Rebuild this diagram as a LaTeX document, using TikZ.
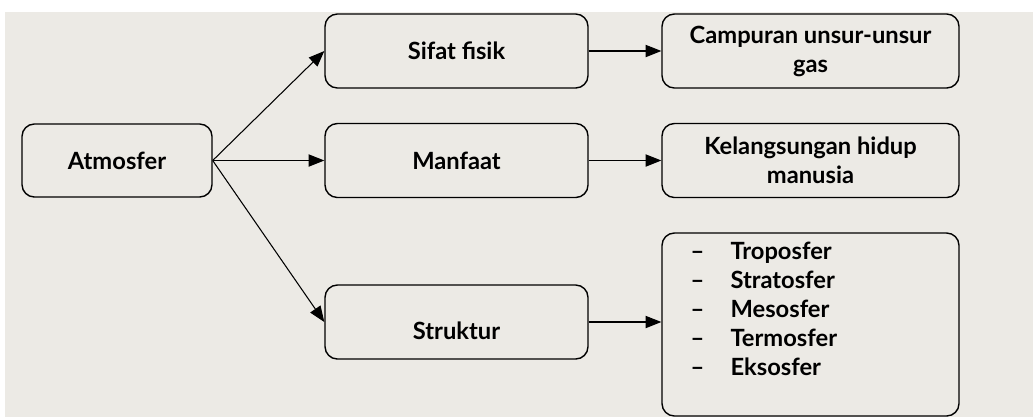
\documentclass[tikz,border=0pt]{standalone}
\usepackage{fontspec}
\setmainfont{Lato}
\usetikzlibrary{positioning,arrows.meta}
\definecolor{latarKrem}{HTML}{ECEAE5}

\begin{document}
\begin{tikzpicture}[
        x=0.02cm, y=-0.02cm,
        kotak/.style={rectangle, draw=black, line width=0.8pt, rounded corners=7pt, align=center, font=\fontsize{13.5}{16.5}\selectfont\bfseries, inner sep=2pt},
        kotakInduk/.style={kotak, minimum width=3.8cm, minimum height=1.46cm},
        kotakTengah/.style={kotak, minimum width=5.26cm, minimum height=1.48cm},
        kotakKanan/.style={kotak, minimum width=5.94cm, minimum height=1.48cm},
        panah/.style={-{Triangle[length=9pt, width=7pt]}, line width=0.6pt, draw=black}
    ]
        % Latar
        \useasboundingbox (0,0) rectangle (1033,417);
        \fill[white] (0,0) rectangle (1033,417);
        \fill[latarKrem] (5,12) rectangle (1033,417);

        % Kotak induk
        \node[kotakInduk] (atmosfer) at (117,160.5) {\raisebox{-2pt}{Atmosfer}};

        % Kotak tengah
        \node[kotakTengah] (sifat) at (456.5,51) {Sifat fisik};
        \node[kotakTengah] (manfaat) at (456.5,160.5) {Manfaat};
        \node[kotakTengah] (struktur) at (456.5,322) {\raisebox{-10pt}[0pt][0pt]{Struktur}};

        % Kotak kanan
        \node[kotakKanan] (campuran) at (810.5,51) {Campuran unsur-unsur\\gas};
        \node[kotakKanan] (hidup) at (810.5,160.5) {Kelangsungan hidup\\manusia};
        \node[kotakKanan, minimum height=3.66cm] (lapisan) at (810.5,324.5) {\parbox[c][3.3cm][t]{4.8cm}{\fontsize{13.5}{16.5}\selectfont\bfseries
            \makebox[0.8cm][l]{--}Troposfer\\
            \makebox[0.8cm][l]{--}Stratosfer\\
            \makebox[0.8cm][l]{--}Mesosfer\\
            \makebox[0.8cm][l]{--}Termosfer\\
            \makebox[0.8cm][l]{--}Eksosfer}};

        % Panah dari induk
        \draw[panah] (atmosfer.east) -- (sifat.west);
        \draw[panah] (atmosfer.east) -- (manfaat.west);
        \draw[panah] (atmosfer.east) -- (struktur.west);

        % Panah ke kanan
        \draw[panah] (sifat.east) -- (campuran.west);
        \draw[panah] (manfaat.east) -- (hidup.west);
        \draw[panah] (struktur.east) -- (struktur.east -| lapisan.west);
    \end{tikzpicture}
\end{document}
